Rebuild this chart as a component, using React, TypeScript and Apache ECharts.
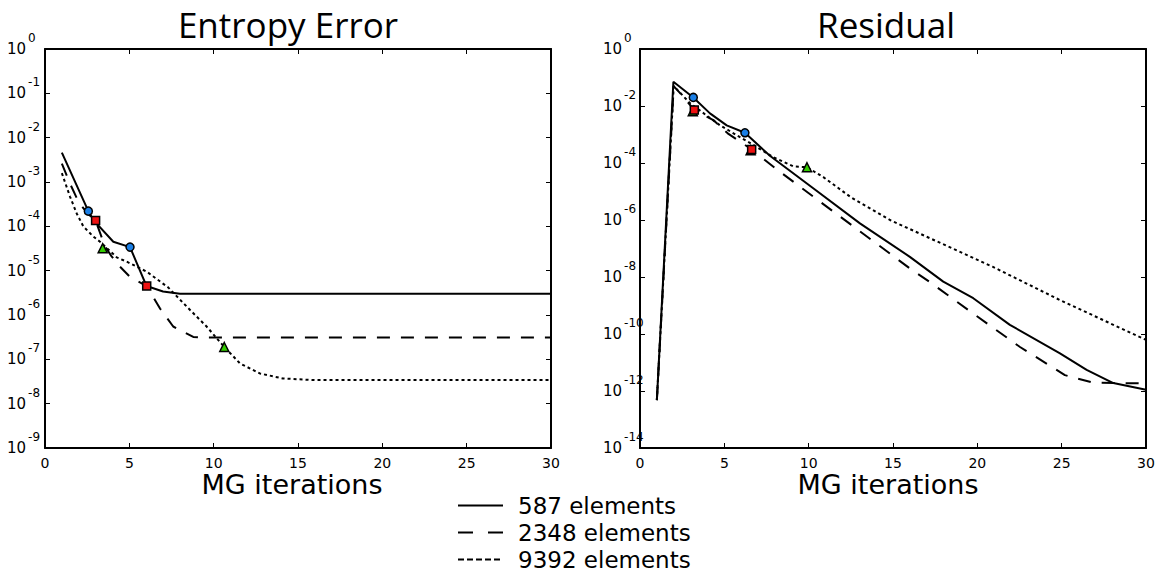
import React, { useEffect, useRef } from "react";
import * as echarts from "echarts";

// ---------- Data ----------
const SERIES_NAMES = ["587 elements", "2348 elements", "9392 elements"];

// Entropy Error panel
const ENT_587_X = [1.0, 2.57, 2.86, 4.05, 5.04, 6.02, 7.0, 8.0, 30];
const ENT_587_Y = [4.6e-3, 2.2e-4, 1.4e-4, 4.5e-5, 3.4e-5, 4.5e-6, 3.4e-6, 3.0e-6, 3.0e-6];
const ENT_2348_X = [1.0, 1.5, 2.0, 2.5, 3.0, 3.56, 3.95, 4.45, 5.04, 6.03, 6.82, 7.6, 8.79, 9.5, 30];
const ENT_2348_Y = [2.6e-3, 8.9e-4, 3.5e-4, 2.0e-4, 1.35e-4, 3.5e-5, 2.1e-5, 1.23e-5, 7.2e-6, 4.5e-6, 1.4e-6, 5.5e-7, 3.2e-7, 3.1e-7, 3.1e-7];
const ENT_9392_X = [1.0, 1.48, 1.88, 2.27, 2.86, 3.26, 4.25, 4.84, 6.03, 7.3, 8.4, 9.58, 10.63, 11.56, 12.74, 14.1, 16, 30];
const ENT_9392_Y = [1.58e-3, 4.7e-4, 1.95e-4, 1.0e-4, 5.9e-5, 4.5e-5, 2.0e-5, 1.6e-5, 9.5e-6, 4.2e-6, 1.55e-6, 5.5e-7, 1.9e-7, 8.1e-8, 4.8e-8, 3.7e-8, 3.4e-8, 3.4e-8];

const ENT_CIRCLE_X = [2.57, 5.04];
const ENT_CIRCLE_Y = [2.2e-4, 3.4e-5];
const ENT_SQUARE_X = [3.0, 6.03];
const ENT_SQUARE_Y = [1.35e-4, 4.5e-6];
const ENT_TRIANGLE_X = [3.42, 10.63];
const ENT_TRIANGLE_Y = [3.2e-5, 1.9e-7];

// Residual panel
const RES_587_X = [1.0, 1.98, 3.16, 4.15, 5.14, 6.22, 7.7, 10.27, 13.04, 16.0, 17.98, 19.76, 21.93, 24.9, 26.48, 28.06, 30];
const RES_587_Y = [4.8e-13, 7.1e-2, 2.0e-2, 5.5e-3, 2.1e-3, 1.15e-3, 1.8e-4, 1.3e-5, 7.6e-7, 5.1e-8, 6.9e-9, 1.8e-9, 2.1e-10, 2.1e-11, 5.5e-12, 1.9e-12, 1.1e-12];
const RES_2348_X = [1.0, 2.0, 2.57, 3.22, 4.35, 5.2, 6.62, 8.1, 13.04, 16.0, 17.29, 19.86, 22.53, 25.19, 26.87, 30];
const RES_2348_Y = [4.8e-13, 5.0e-2, 2.1e-2, 7.2e-3, 3.2e-3, 1.1e-3, 3.0e-4, 6.0e-5, 4.0e-7, 2.0e-8, 6.0e-9, 4.7e-10, 3.5e-11, 3.6e-12, 1.95e-12, 1.85e-12];
const RES_9392_X = [1.0, 2.0, 2.96, 4.74, 6.72, 7.9, 9.09, 9.9, 10.87, 12.5, 14.82, 16.99, 20.9, 24.9, 30];
const RES_9392_Y = [4.8e-13, 5.0e-2, 1.26e-2, 2.1e-3, 4.3e-4, 1.6e-4, 7.6e-5, 7.1e-5, 3.2e-5, 6.3e-6, 1.0e-6, 2.6e-7, 2.3e-8, 1.55e-9, 6.2e-11];

const RES_CIRCLE_X = [3.16, 6.22];
const RES_CIRCLE_Y = [2.0e-2, 1.15e-3];
const RES_SQUARE_X = [3.22, 6.62];
const RES_SQUARE_Y = [7.2e-3, 3.0e-4];
const RES_TRIANGLE_X = [3.13, 6.56, 9.9];
const RES_TRIANGLE_Y = [6.6e-3, 2.8e-4, 7.1e-5];

// ---------- Styling ----------
const FONT = "DejaVu Sans";
const TITLE_FONT = "Open Sans";
const BLUE = "#1a7fe6";
const RED = "#ee1111";
const GREEN = "#33cc00";

const LINE_TYPES: any[] = ["solid", [13, 11], [3, 3]];
const LEGEND_LINE_TYPES: any[] = ["solid", [15, 15], [6, 3]];

const toLog = (xs: number[], ys: number[]) => xs.map((x, i) => [x, Math.log10(ys[i])]);

const yRich = {
  b: { fontSize: 15, fontFamily: FONT, color: "#000", lineHeight: 34 },
  e: { fontSize: 12, fontFamily: FONT, color: "#000", lineHeight: 12, verticalAlign: "top", padding: [0, 0, 0, 2] },
};

const axisLine = { show: true, onZero: false, lineStyle: { color: "#000", width: 2 } };
const axisTick = { show: true, inside: true, length: 5, lineStyle: { color: "#000", width: 1 } };

function makeXAxes(gridIndex: number, namePad: number[]) {
  return [
    {
      type: "value", gridIndex, position: "bottom", min: 0, max: 30, interval: 5,
      axisLine, axisTick,
      axisLabel: { margin: 8, fontSize: 14, lineHeight: 14, fontFamily: FONT, color: "#000" },
      splitLine: { show: false },
      name: "MG iterations", nameLocation: "middle", nameGap: 23, nameMoveOverlap: false,
      nameTextStyle: { fontSize: 27, lineHeight: 27, fontFamily: FONT, color: "#000", padding: namePad },
    },
    {
      type: "value", gridIndex, position: "top", min: 0, max: 30, interval: 5,
      axisLine, axisTick, axisLabel: { show: false }, splitLine: { show: false },
    },
  ];
}

function makeYAxes(gridIndex: number, min: number, interval: number, margin: number) {
  return [
    {
      type: "value", gridIndex, position: "left", min, max: 0, interval,
      axisLine, axisTick,
      axisLabel: {
        margin, align: "left", formatter: (v: number) => `{b|10}{e|${Math.round(v)}}`, rich: yRich,
      },
      splitLine: { show: false },
    },
    {
      type: "value", gridIndex, position: "right", min, max: 0, interval,
      axisLine, axisTick, axisLabel: { show: false }, splitLine: { show: false },
    },
  ];
}

function lineSeries(name: string, idx: number, xs: number[], ys: number[], xAxisIndex: number, yAxisIndex: number) {
  return {
    type: "line", name, xAxisIndex, yAxisIndex, data: toLog(xs, ys),
    symbol: "none", showSymbol: false, silent: true, z: 2,
    lineStyle: { color: "#000", width: 2, type: LINE_TYPES[idx] },
    itemStyle: { color: "#000" },
  };
}

function markerSeries(name: string, symbol: string, color: string, size: number, xs: number[], ys: number[], xAxisIndex: number, yAxisIndex: number, z: number) {
  return {
    type: "scatter", name, xAxisIndex, yAxisIndex, data: toLog(xs, ys),
    symbol, symbolSize: size, silent: true, z,
    itemStyle: { color, borderColor: "#000", borderWidth: 1.5, opacity: 1 },
  };
}

const option: any = {
  animation: false,
  backgroundColor: "#fff",
  grid: [
    { left: 45, right: 615, top: 49, bottom: 136, containLabel: false, outerBoundsMode: "none" },
    { left: 640, right: 20, top: 49, bottom: 136, containLabel: false, outerBoundsMode: "none" },
  ],
  xAxis: [...makeXAxes(0, [0, 12, 0, 0]), ...makeXAxes(1, [0, 10, 0, 0])],
  yAxis: [...makeYAxes(0, -9, 1, 38), ...makeYAxes(1, -14, 2, 37)],
  legend: {
    data: SERIES_NAMES.map((name, i) => ({
      name,
      lineStyle: { color: "#000", width: 2, type: LEGEND_LINE_TYPES[i] },
    })),
    orient: "vertical",
    left: 457,
    top: 492,
    padding: 0,
    itemGap: 0,
    itemWidth: 45,
    itemHeight: 27,
    selectedMode: false,
    itemStyle: { opacity: 0, borderWidth: 0 },
    textStyle: { fontSize: 23, fontFamily: FONT, color: "#000", lineHeight: 27, padding: [0, 0, 0, 10] },
  },
  graphic: [
    {
      type: "text", x: 288, y: 24, silent: true,
      style: { text: "Entropy Error", fontSize: 35, fontFamily: TITLE_FONT, fill: "#000", align: "center", verticalAlign: "middle", textAlign: "center", textVerticalAlign: "middle" },
    },
    {
      type: "text", x: 886, y: 24, silent: true,
      style: { text: "Residual", fontSize: 35, fontFamily: TITLE_FONT, fill: "#000", align: "center", verticalAlign: "middle", textAlign: "center", textVerticalAlign: "middle" },
    },
  ],
  series: [
    lineSeries(SERIES_NAMES[0], 0, ENT_587_X, ENT_587_Y, 0, 0),
    lineSeries(SERIES_NAMES[1], 1, ENT_2348_X, ENT_2348_Y, 0, 0),
    lineSeries(SERIES_NAMES[2], 2, ENT_9392_X, ENT_9392_Y, 0, 0),
    lineSeries(SERIES_NAMES[0], 0, RES_587_X, RES_587_Y, 2, 2),
    lineSeries(SERIES_NAMES[1], 1, RES_2348_X, RES_2348_Y, 2, 2),
    lineSeries(SERIES_NAMES[2], 2, RES_9392_X, RES_9392_Y, 2, 2),
    markerSeries("ent-tri", "triangle", GREEN, 9, ENT_TRIANGLE_X, ENT_TRIANGLE_Y, 0, 0, 3),
    markerSeries("ent-sq", "rect", RED, 8, ENT_SQUARE_X, ENT_SQUARE_Y, 0, 0, 4),
    markerSeries("ent-circ", "circle", BLUE, 8, ENT_CIRCLE_X, ENT_CIRCLE_Y, 0, 0, 5),
    markerSeries("res-tri", "triangle", GREEN, 9, RES_TRIANGLE_X, RES_TRIANGLE_Y, 2, 2, 3),
    markerSeries("res-sq", "rect", RED, 8, RES_SQUARE_X, RES_SQUARE_Y, 2, 2, 4),
    markerSeries("res-circ", "circle", BLUE, 8, RES_CIRCLE_X, RES_CIRCLE_Y, 2, 2, 5),
  ],
};

export default function App() {
  const ref = useRef<HTMLDivElement>(null);
  useEffect(() => {
    if (!ref.current) return;
    const chart = echarts.init(ref.current, null, { renderer: "svg" });
    chart.setOption(option);
    return () => chart.dispose();
  }, []);
  return (
    <div
      ref={ref}
      style={{ position: "fixed", left: 0, top: 0, width: 1166, height: 584, background: "#fff" }}
    />
  );
}
